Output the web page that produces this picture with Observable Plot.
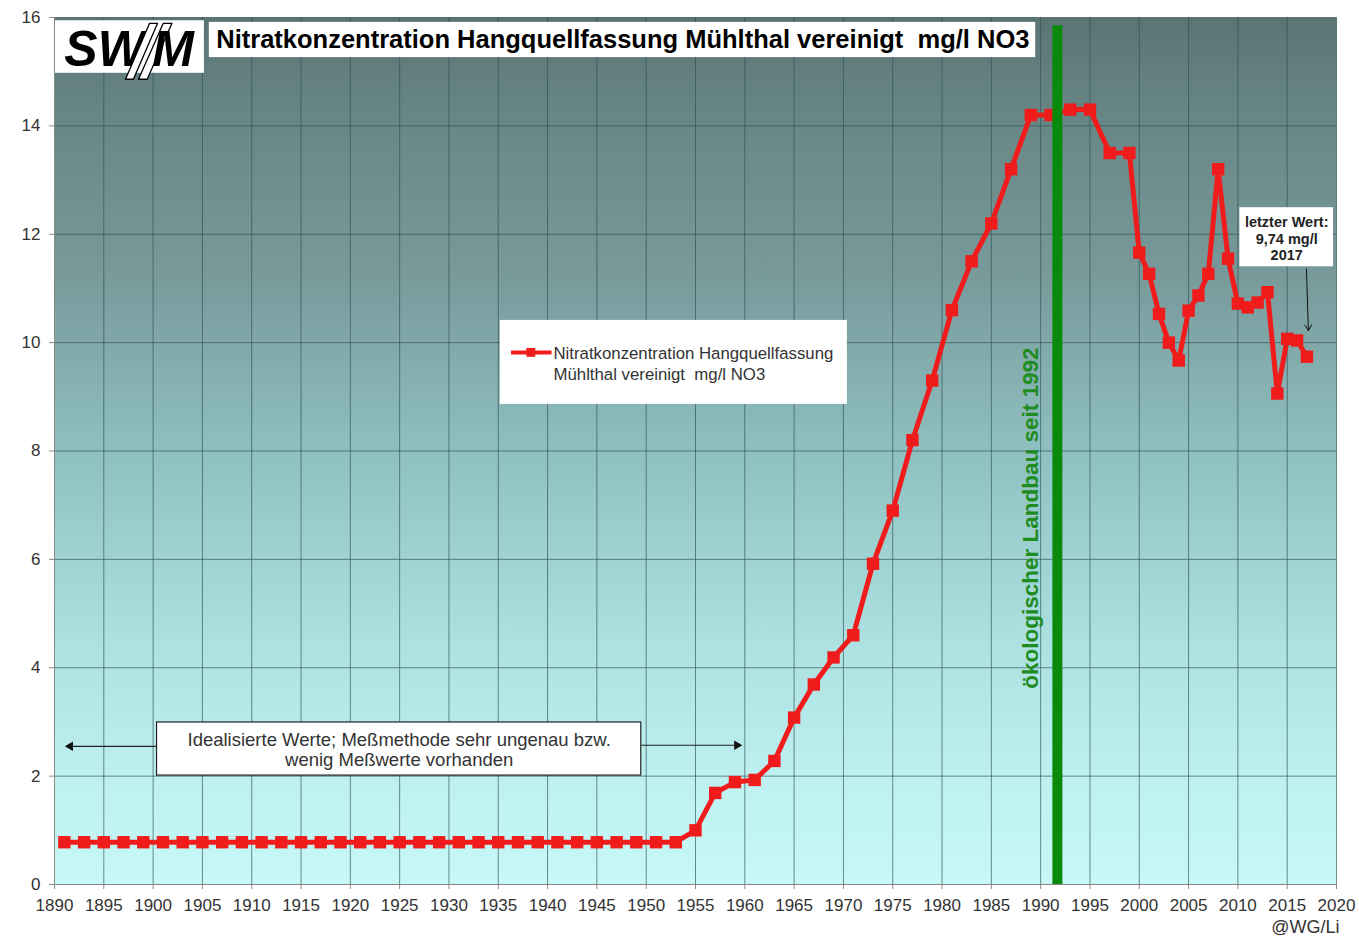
<!DOCTYPE html>
<html>
<head>
<meta charset="utf-8">
<script src="https://cdn.jsdelivr.net/npm/d3@7"></script>
<script src="https://cdn.jsdelivr.net/npm/@observablehq/plot@0.6"></script>
<style>
  html, body { margin: 0; padding: 0; background: #fff; }
  #chart svg { font-family: "Liberation Sans", Arial, sans-serif; }
</style>
</head>
<body>
<div id="chart"></div>
<script>
// ---- data ----
const years = [1891,1893,1895,1897,1899,1901,1903,1905,1907,1909,1911,1913,1915,1917,1919,1921,1923,1925,1927,1929,1931,1933,1935,1937,1939,1941,1943,1945,1947,1949,1951,1953,
  1955,1957,1959,1961,1963,1965,1967,1969,1971,1973,1975,1977,1979,1981,1983,1985,1987,1989,1991,1993,1995,1997,1999,
  2000,2001,2002,2003,2004,2005,2006,2007,2008,2009,2010,2011,2012,2013,2014,2015,2016,2017];
const nitrate = [0.78,0.78,0.78,0.78,0.78,0.78,0.78,0.78,0.78,0.78,0.78,0.78,0.78,0.78,0.78,0.78,0.78,0.78,0.78,0.78,0.78,0.78,0.78,0.78,0.78,0.78,0.78,0.78,0.78,0.78,0.78,0.78,
  1.0,1.69,1.89,1.93,2.28,3.08,3.69,4.19,4.6,5.92,6.9,8.2,9.3,10.6,11.5,12.2,13.2,14.2,14.2,14.3,14.3,13.5,13.5,
  11.66,11.27,10.53,10.0,9.67,10.59,10.87,11.27,13.2,11.55,10.72,10.65,10.74,10.93,9.06,10.07,10.04,9.74];
const xTicks = [1890,1895,1900,1905,1910,1915,1920,1925,1930,1935,1940,1945,1950,1955,1960,1965,1970,1975,1980,1985,1990,1995,2000,2005,2010,2015,2020];
const yTicks = [0,2,4,6,8,10,12,14,16];
const ecoYear = [1992];
const titleText = "Nitratkonzentration Hangquellfassung Mühlthal vereinigt \u00a0mg/l NO3";
const seriesLabel = "Nitratkonzentration Hangquellfassung\nMühlthal vereinigt \u00a0mg/l NO3";
const ecoLabel = "ökologischer Landbau seit 1992";
const noteText = "Idealisierte Werte; Meßmethode sehr ungenau bzw.\nwenig Meßwerte vorhanden";
const lastText = "letzter Wert:\n9,74 mg/l\n2017";
const credit = "@WG/Li";
const logoLeft = "SW";
const logoRight = "M";

const data = years.map((y, i) => ({year: y, value: nitrate[i]}));
const RED = "#f01c1c";
const GRID = "#2f4f4f";

const box = (x1, x2, y1, y2) => [{x1, x2, y1, y2}];
// logo slashes (decorative outline shapes of the SWM logo)
const slashes = [
  {k: 1, x: 1897.2, y: 14.86}, {k: 1, x: 1898.0, y: 14.86}, {k: 1, x: 1900.44, y: 15.89}, {k: 1, x: 1899.63, y: 15.89}, {k: 1, x: 1897.2, y: 14.86},
  {k: 2, x: 1898.52, y: 14.86}, {k: 2, x: 1899.4, y: 14.86}, {k: 2, x: 1901.9, y: 15.89}, {k: 2, x: 1901.02, y: 15.89}, {k: 2, x: 1898.52, y: 14.86}
];
const LOGO_FONT = "'Liberation Sans Narrow', 'Arial Narrow', 'Liberation Sans', sans-serif";

const plot = Plot.plot({
  width: 1359,
  height: 940,
  marginLeft: 54,
  marginRight: 23,
  marginTop: 17,
  marginBottom: 56,
  style: {background: "white", fontFamily: "Liberation Sans, Arial, sans-serif", overflow: "visible"},
  x: {domain: [1890, 2020]},
  y: {domain: [0, 16]},
  marks: [
    Plot.frame({fill: "url(#bgGrad)", stroke: "none"}),
    Plot.gridX(xTicks, {stroke: GRID, strokeOpacity: 0.65, strokeWidth: 1}),
    Plot.gridY(yTicks, {stroke: GRID, strokeOpacity: 0.65, strokeWidth: 1}),
    Plot.ruleY([0], {stroke: "#888"}),
    Plot.ruleX([1890], {stroke: "#888"}),
    Plot.axisX({ticks: xTicks, tickFormat: d => String(d), fontSize: 17, tickSize: 5, tickPadding: 9, fill: "#333", stroke: "#888", label: null}),
    Plot.axisY({ticks: yTicks, fontSize: 17, tickSize: 5, tickPadding: 9, fill: "#333", stroke: "#888", label: null}),
    // series
    Plot.line(data, {x: "year", y: "value", stroke: RED, strokeWidth: 5, strokeLinejoin: "round"}),
    Plot.dot(data, {x: "year", y: "value", symbol: "square", r: 7, fill: RED, stroke: "none"}),
    // ecological farming bar
    Plot.ruleX(ecoYear, {x: d => d, y1: 0, y2: 15.85, dx: -3, stroke: "#0a8a0a", strokeWidth: 10}),
    Plot.text([ecoLabel], {x: 1989.0, y: 6.76, text: d => d, rotate: -90, fill: "#1e8c1e", fontSize: 22.5, fontWeight: "bold"}),
    // logo box
    Plot.rect(box(1890.1, 1905.2, 14.97, 15.94), {x1: "x1", x2: "x2", y1: "y1", y2: "y2", fill: "white"}),
    Plot.text([logoLeft], {x: 1891.0, y: 15.40, text: d => d, textAnchor: "start", fontSize: 50, fontWeight: "bold", fontStyle: "italic", fontFamily: LOGO_FONT, fill: "black"}),
    Plot.line(slashes, {x: "x", y: "y", z: "k", fill: "white", stroke: "black", strokeWidth: 1.3, curve: "linear"}),
    Plot.text([logoRight], {x: 1899.9, y: 15.40, text: d => d, textAnchor: "start", fontSize: 50, fontWeight: "bold", fontStyle: "italic", fontFamily: LOGO_FONT, fill: "black"}),
    // title box
    Plot.rect(box(1905.7, 1989.5, 15.26, 15.91), {x1: "x1", x2: "x2", y1: "y1", y2: "y2", fill: "white"}),
    Plot.text([titleText], {x: 1906.4, y: 15.58, text: d => d, textAnchor: "start", fontSize: 25.5, fontWeight: "bold", fill: "black"}),
    // legend
    Plot.rect(box(1935.2, 1970.4, 8.86, 10.41), {x1: "x1", x2: "x2", y1: "y1", y2: "y2", fill: "white"}),
    Plot.link(box(1936.3, 1940.4, 9.82, 9.82), {x1: "x1", x2: "x2", y1: "y1", y2: "y2", stroke: RED, strokeWidth: 4}),
    Plot.dot([1], {x: 1938.3, y: 9.82, symbol: "square", r: 5, fill: RED}),
    Plot.text([seriesLabel], {x: 1940.6, y: 9.63, text: d => d, textAnchor: "start", fontSize: 16.8, lineHeight: 1.25, fill: "#333"}),
    // note box with arrows
    Plot.link(box(1891.8, 1900.4, 2.55, 2.55), {x1: "x1", x2: "x2", y1: "y1", y2: "y2", stroke: "#222", strokeWidth: 1.2}),
    Plot.dot([1], {x: 1891.6, y: 2.55, symbol: "triangle2", r: 4.5, rotate: -90, fill: "#111"}),
    Plot.link(box(1949.5, 1959.0, 2.57, 2.57), {x1: "x1", x2: "x2", y1: "y1", y2: "y2", stroke: "#222", strokeWidth: 1.2}),
    Plot.dot([1], {x: 1959.2, y: 2.57, symbol: "triangle2", r: 4.5, rotate: 90, fill: "#111"}),
    Plot.rect(box(1900.4, 1949.5, 2.01, 2.99), {x1: "x1", x2: "x2", y1: "y1", y2: "y2", fill: "white", stroke: "#222", strokeWidth: 1.2}),
    Plot.text([noteText], {x: 1924.95, y: 2.49, text: d => d, fontSize: 18.5, lineHeight: 1.08, fill: "#333"}),
    // last value note
    Plot.rect(box(2010.2, 2019.7, 11.40, 12.49), {x1: "x1", x2: "x2", y1: "y1", y2: "y2", fill: "white"}),
    Plot.text([lastText], {x: 2014.95, y: 11.92, text: d => d, fontSize: 14.5, fontWeight: "bold", lineHeight: 1.14, fill: "#222"}),
    Plot.arrow(box(2016.95, 2017.15, 11.36, 10.22), {x1: "x1", x2: "x2", y1: "y1", y2: "y2", stroke: "#111", strokeWidth: 1, headLength: 10}),
    // credit
    Plot.text([credit], {frameAnchor: "bottom-right", text: d => d, textAnchor: "end", dx: 3, dy: 48, fontSize: 18, fill: "#333"})
  ]
});

// background gradient definition
const svg = d3.select(plot);
const defs = svg.insert("defs", ":first-child");
const grad = defs.append("linearGradient").attr("id", "bgGrad").attr("x1", 0).attr("y1", 0).attr("x2", 0).attr("y2", 1);
[[0, "#5c7373"], [0.1, "#668484"], [0.3, "#789a9b"], [0.5, "#8fc0c1"], [0.72, "#ace0e1"], [0.9, "#c0f2f2"], [1, "#c8f8f8"]]
  .forEach(([o, c]) => grad.append("stop").attr("offset", o).attr("stop-color", c));

document.getElementById("chart").appendChild(plot);
</script>
</body>
</html>
